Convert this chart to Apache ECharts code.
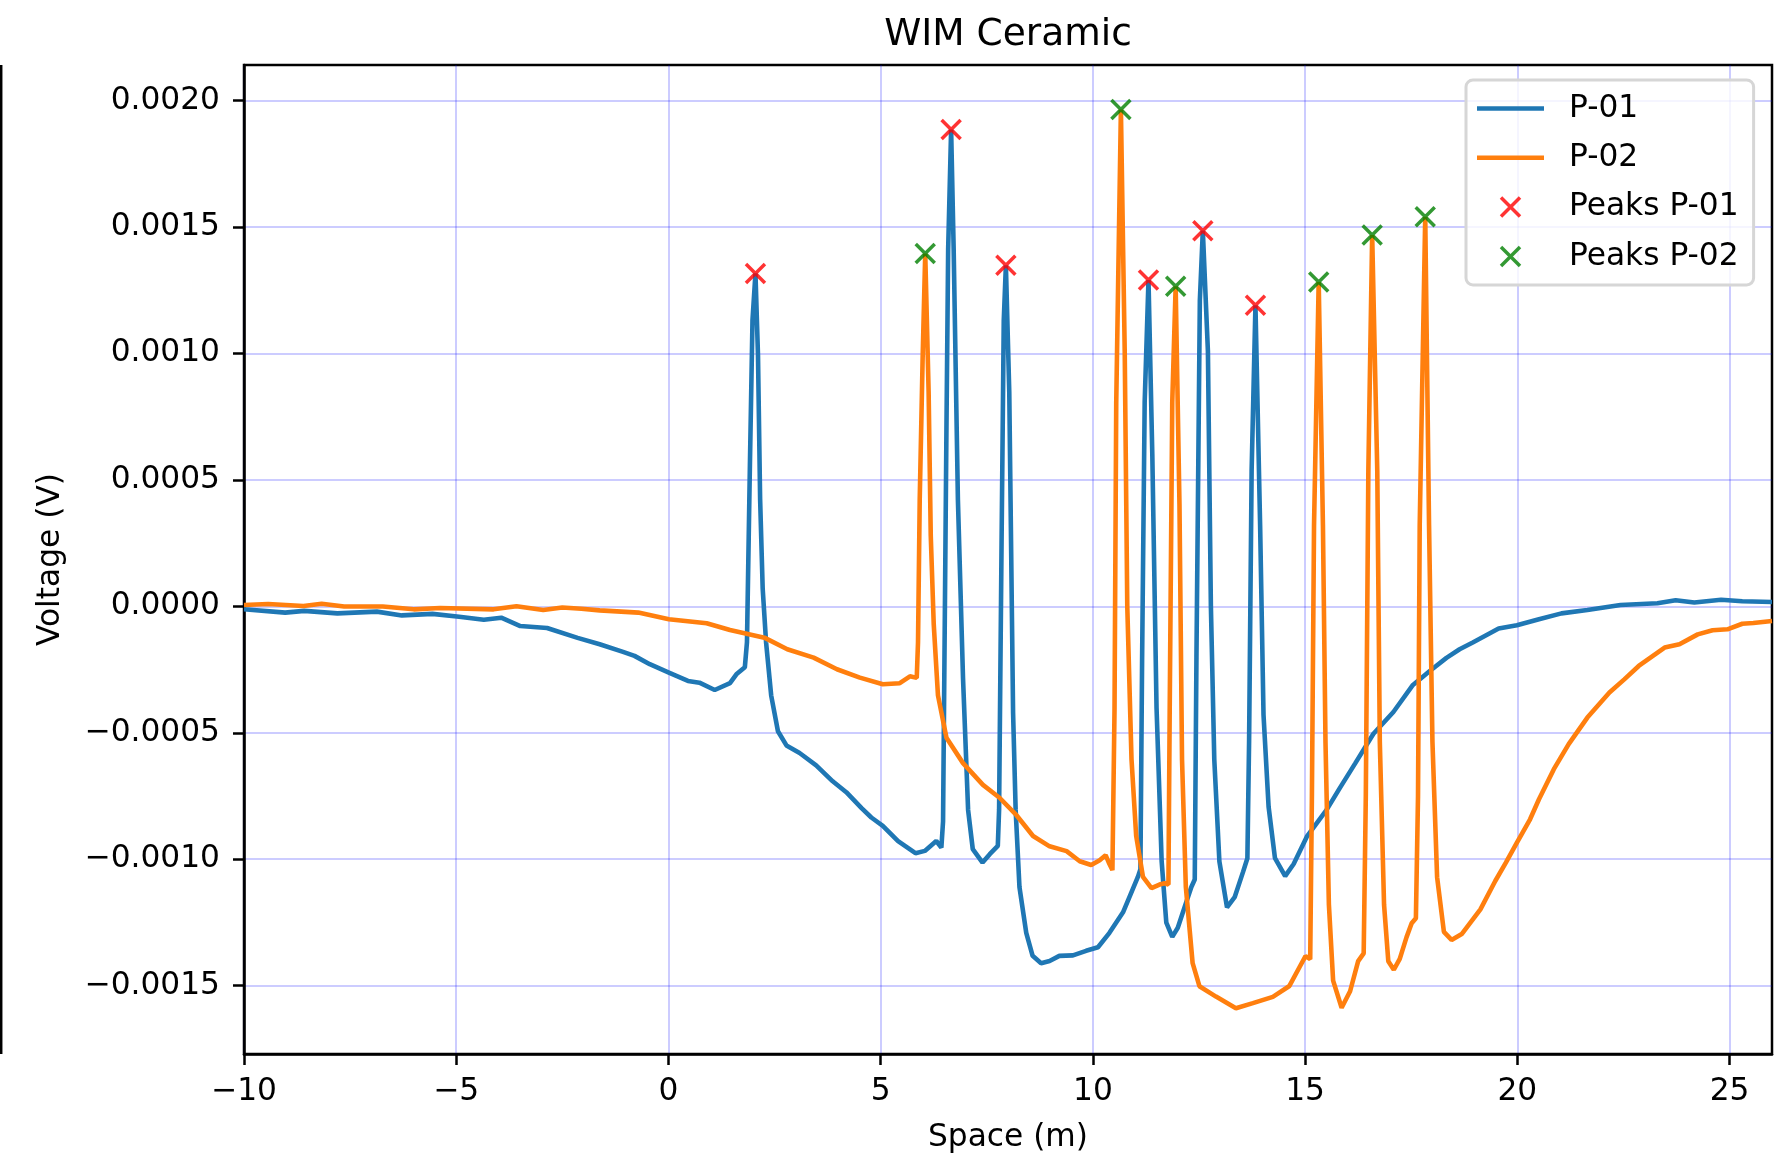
<!DOCTYPE html>
<html>
<head>
<meta charset="utf-8">
<title>WIM Ceramic</title>
<script src="https://cdn.jsdelivr.net/npm/echarts@6/dist/echarts.min.js"></script>
<style>
  html, body { margin: 0; padding: 0; background: #fff; }
  #chart { width: 1779px; height: 1153px; }
</style>
</head>
<body>
<div id="chart"></div>
<script>
// values: space in m, voltage in V
const spaceP01 = [
  -10.0, -9.03, -8.58, -7.80, -6.87, -6.28, -5.56, -4.93, -4.35, -3.94, -3.49, -2.86, -2.14, -1.62,
  -1.07, -0.80, -0.44, 0.01, 0.46, 0.73, 1.09, 1.45, 1.60, 1.80, 1.85, 1.92, 1.98, 2.05, 2.11, 2.16,
  2.22, 2.30, 2.42, 2.58, 2.78, 3.09, 3.48, 3.87, 4.19, 4.55, 4.78, 5.05, 5.41, 5.82, 6.04, 6.31,
  6.43, 6.47, 6.55, 6.59, 6.66, 6.72, 6.82, 6.94, 7.06, 7.17, 7.40, 7.57, 7.76, 7.79, 7.85, 7.90,
  7.95, 8.03, 8.12, 8.18, 8.27, 8.43, 8.58, 8.78, 8.98, 9.21, 9.53, 9.84, 10.12, 10.39, 10.71, 10.91,
  11.06, 11.12, 11.16, 11.22, 11.31, 11.40, 11.50, 11.62, 11.73, 11.87, 12.00, 12.16, 12.32, 12.40,
  12.44, 12.52, 12.59, 12.71, 12.78, 12.86, 12.98, 13.16, 13.34, 13.54, 13.64, 13.68, 13.74, 13.83,
  13.94, 14.02, 14.14, 14.29, 14.53, 14.73, 15.04, 15.51, 15.82, 16.18, 16.61, 17.08, 17.54, 17.93,
  18.33, 18.64, 18.95, 19.56, 19.99, 20.51, 21.04, 21.65, 22.43, 23.30, 23.73, 24.17, 24.80, 25.30,
  26.00
];
const voltP01 = [
  -0.000012, -0.000025, -0.000018, -0.000028, -0.000021, -0.000036, -0.000030, -0.000041, -0.000053,
  -0.000045, -0.000078, -0.000086, -0.000125, -0.000150, -0.000180, -0.000196, -0.000229, -0.000262,
  -0.000295, -0.000302, -0.000331, -0.000304, -0.000269, -0.000241, -0.000142, 0.000565, 0.001130,
  0.001316, 0.000990, 0.000423, 0.000071, -0.000142, -0.000352, -0.000494, -0.000550, -0.000580,
  -0.000629, -0.000692, -0.000735, -0.000798, -0.000835, -0.000868, -0.000928, -0.000976, -0.000967,
  -0.000928, -0.000954, -0.000850, 0.000705, 0.001410, 0.001885, 0.001410, 0.000420, -0.000283,
  -0.000805, -0.000960, -0.001013, -0.000980, -0.000947, -0.000805, 0.000280, 0.001130, 0.001348,
  0.000846, -0.000423, -0.000805, -0.001110, -0.001291, -0.001382, -0.001411, -0.001402, -0.001382,
  -0.001380, -0.001362, -0.001348, -0.001291, -0.001210, -0.001130, -0.001070, -0.001040, -0.000200,
  0.000806, 0.001290, 0.000600, -0.000403, -0.001008, -0.001251, -0.001307, -0.001271, -0.001190,
  -0.001110, -0.001080, -0.000200, 0.001210, 0.001485, 0.001008, 0.000000, -0.000605, -0.001008,
  -0.001190, -0.001150, -0.001049, -0.000996, -0.000536, 0.000537, 0.001190, 0.000320, -0.000429,
  -0.000793, -0.000996, -0.001067, -0.001019, -0.000911, -0.000804, -0.000718, -0.000621, -0.000504,
  -0.000418, -0.000311, -0.000257, -0.000204, -0.000170, -0.000143, -0.000088, -0.000075, -0.000051,
  -0.000028, -0.000015, 0.000005, 0.000012, 0.000024, 0.000015, 0.000026, 0.000020, 0.000017
];
const spaceP02 = [
  -10.0, -9.43, -8.60, -8.17, -7.64, -6.73, -6.00, -5.38, -4.12, -3.58, -2.95, -2.50, -2.05, -1.62,
  -0.71, 0.01, 0.90, 1.45, 2.26, 2.80, 3.42, 3.97, 4.51, 5.05, 5.45, 5.69, 5.85, 5.88, 5.92, 5.99,
  6.05, 6.13, 6.18, 6.25, 6.35, 6.55, 6.94, 7.41, 7.80, 8.20, 8.59, 8.98, 9.38, 9.69, 9.96, 10.16,
  10.30, 10.39, 10.46, 10.51, 10.55, 10.66, 10.75, 10.81, 10.91, 11.02, 11.18, 11.38, 11.57, 11.69,
  11.78, 11.81, 11.87, 11.95, 12.04, 12.10, 12.19, 12.35, 12.51, 12.90, 13.37, 13.77, 14.24, 14.63,
  14.87, 15.01, 15.12, 15.16, 15.21, 15.32, 15.42, 15.48, 15.56, 15.66, 15.86, 16.06, 16.25, 16.38,
  16.43, 16.49, 16.58, 16.70, 16.76, 16.86, 16.96, 17.09, 17.23, 17.39, 17.51, 17.61, 17.66, 17.70,
  17.83, 17.92, 18.00, 18.11, 18.27, 18.45, 18.69, 19.13, 19.48, 19.73, 19.99, 20.30, 20.51, 20.86,
  21.21, 21.65, 22.17, 22.52, 22.86, 23.47, 23.82, 24.25, 24.60, 24.95, 25.30, 25.56, 26.00
];
const voltP02 = [
  0.000005, 0.000009, 0.000001, 0.000010, -0.000001, -0.000001, -0.000012, -0.000007, -0.000012,
  0.000000, -0.000015, -0.000005, -0.000010, -0.000016, -0.000025, -0.000051, -0.000067, -0.000094,
  -0.000124, -0.000170, -0.000203, -0.000249, -0.000282, -0.000308, -0.000304, -0.000277, -0.000283,
  -0.000142, 0.000420, 0.000990, 0.001395, 0.000846, 0.000280, -0.000070, -0.000352, -0.000520,
  -0.000620, -0.000706, -0.000757, -0.000826, -0.000908, -0.000949, -0.000968, -0.001008, -0.001023,
  -0.001004, -0.000984, -0.001019, -0.001043, -0.000403, 0.000806, 0.001964, 0.001008, 0.000000,
  -0.000605, -0.000908, -0.001070, -0.001114, -0.001100, -0.001095, -0.001100, -0.000403, 0.000806,
  0.001265, 0.000403, -0.000605, -0.001110, -0.001411, -0.001502, -0.001543, -0.001589, -0.001569,
  -0.001544, -0.001501, -0.001426, -0.001383, -0.001395, -0.000751, 0.000320, 0.001282, 0.000320,
  -0.000536, -0.001178, -0.001480, -0.001587, -0.001522, -0.001403, -0.001372, -0.000751, 0.000537,
  0.001468, 0.000537, -0.000536, -0.001180, -0.001403, -0.001437, -0.001394, -0.001308, -0.001253,
  -0.001233, -0.000751, 0.000320, 0.001540, 0.000320, -0.000536, -0.001071, -0.001287, -0.001319,
  -0.001296, -0.001198, -0.001086, -0.001013, -0.000934, -0.000842, -0.000763, -0.000644, -0.000545,
  -0.000440, -0.000341, -0.000289, -0.000236, -0.000163, -0.000150, -0.000111, -0.000095, -0.000091,
  -0.000069, -0.000066, -0.000058
];
const peakSpaceP01 = [2.05, 6.66, 7.95, 11.31, 12.59, 13.83];
const peakVoltP01 = [0.001316, 0.001885, 0.001348, 0.001290, 0.001485, 0.001190];
const peakSpaceP02 = [6.05, 10.66, 11.95, 15.32, 16.58, 17.83];
const peakVoltP02 = [0.001395, 0.001964, 0.001265, 0.001282, 0.001468, 0.001540];

const xTicks = [-10, -5, 0, 5, 10, 15, 20, 25];
const yTicks = [-0.0015, -0.001, -0.0005, 0, 0.0005, 0.001, 0.0015, 0.002];

const FONT = "'DejaVu Sans', sans-serif";
const CROSS = 'path://M0,0L10,10M10,0L0,10';
const BAR = 'path://M0,0H67V4.6H0Z';

const pairs = (xs, ys) => xs.map((x, i) => [x, ys[i]]);
const minus = (s) => s.replace('-', '\u2212');

const chart = echarts.init(document.getElementById('chart'), null, { renderer: 'canvas' });

chart.setOption({
  animation: false,
  backgroundColor: '#fff',
  title: {
    text: 'WIM Ceramic',
    left: 1008,
    top: 16.5,
    padding: 0,
    textAlign: 'center',
    textStyle: { fontFamily: FONT, fontSize: 37.5, fontWeight: 'normal', color: '#000' }
  },
  grid: {
    left: 244, right: 7, top: 65, bottom: 99,
    outerBoundsMode: 'none',
    containLabel: false,
    show: true, borderColor: '#000', borderWidth: 2.5, backgroundColor: 'transparent'
  },
  legend: {
    orient: 'vertical',
    left: 1466,
    top: 80,
    padding: [13, 15, 13, 11],
    itemWidth: 67,
    itemHeight: 19,
    itemGap: 18.3,
    selectedMode: false,
    backgroundColor: 'rgba(255,255,255,0.8)',
    borderColor: '#d6d6d6',
    borderWidth: 3,
    borderRadius: 7,
    textStyle: { fontFamily: FONT, fontSize: 31.25, color: '#000', padding: [0, 0, 0, 20] },
    data: [
      { name: 'P-01', icon: BAR, itemStyle: { color: '#1f77b4', borderWidth: 0 } },
      { name: 'P-02', icon: BAR, itemStyle: { color: '#ff7f0e', borderWidth: 0 } },
      { name: 'Peaks P-01', icon: CROSS, itemStyle: { color: 'red', borderColor: 'red', borderWidth: 3.5 } },
      { name: 'Peaks P-02', icon: CROSS, itemStyle: { color: 'green', borderColor: 'green', borderWidth: 3.5 } }
    ]
  },
  xAxis: {
    type: 'value',
    min: -10,
    max: 26,
    interval: 5,
    name: 'Space (m)',
    nameLocation: 'middle',
    nameGap: 68.5,
    nameTextStyle: { fontFamily: FONT, fontSize: 31.25, color: '#000' },
    axisLine: { show: true, onZero: false, lineStyle: { color: '#000', width: 2.5 } },
    axisTick: { show: true, length: 11, customValues: xTicks, lineStyle: { color: '#000', width: 2.5 } },
    axisLabel: {
      margin: 22.5,
      customValues: xTicks,
      fontFamily: FONT, fontSize: 31.25, color: '#000',
      formatter: (v) => minus(String(v))
    },
    splitLine: { show: true, lineStyle: { color: 'rgba(0,0,255,0.2)', width: 2 } }
  },
  yAxis: {
    type: 'value',
    min: -0.00177,
    max: 0.00214,
    minInterval: 0.0005,
    maxInterval: 0.0005,
    name: 'Voltage (V)',
    nameLocation: 'middle',
    nameGap: 178,
    nameTextStyle: { fontFamily: FONT, fontSize: 31.25, color: '#000' },
    axisLine: { show: true, onZero: false, lineStyle: { color: '#000', width: 2.5 } },
    axisTick: { show: true, length: 11, customValues: yTicks, lineStyle: { color: '#000', width: 2.5 } },
    axisLabel: {
      margin: 24,
      customValues: yTicks,
      fontFamily: FONT, fontSize: 31.25, color: '#000',
      formatter: (v) => minus(v.toFixed(4))
    },
    splitLine: { show: true, lineStyle: { color: 'rgba(0,0,255,0.2)', width: 2 } }
  },
  series: [
    {
      name: 'P-01', type: 'line', data: pairs(spaceP01, voltP01),
      symbol: 'none', lineStyle: { color: '#1f77b4', width: 4.6 }, itemStyle: { color: '#1f77b4' }
    },
    {
      name: 'P-02', type: 'line', data: pairs(spaceP02, voltP02),
      symbol: 'none', lineStyle: { color: '#ff7f0e', width: 4.6 }, itemStyle: { color: '#ff7f0e' }
    },
    {
      name: 'Peaks P-01', type: 'scatter', data: pairs(peakSpaceP01, peakVoltP01),
      symbol: CROSS, symbolSize: 19, z: 5,
      itemStyle: { color: 'red', borderColor: 'red', borderWidth: 3.5 }
    },
    {
      name: 'Peaks P-02', type: 'scatter', data: pairs(peakSpaceP02, peakVoltP02),
      symbol: CROSS, symbolSize: 19, z: 5,
      itemStyle: { color: 'green', borderColor: 'green', borderWidth: 3.5 }
    }
  ],
  graphic: [
    {
      // right spine of a neighbouring panel, cut off at the left edge
      type: 'line',
      shape: { x1: 1.2, y1: 65, x2: 1.2, y2: 1054 },
      style: { stroke: '#000', lineWidth: 2.5 }
    }
  ]
});

window.addEventListener('resize', () => chart.resize());
</script>
</body>
</html>
